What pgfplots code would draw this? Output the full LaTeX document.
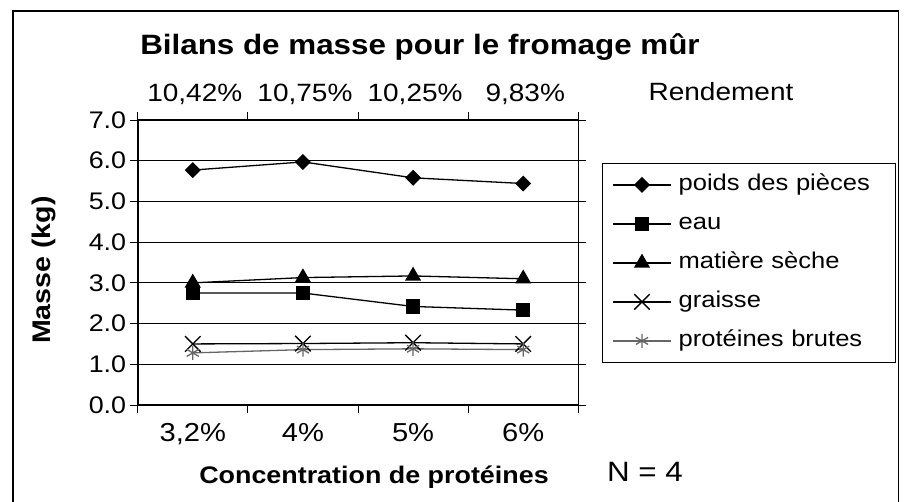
\documentclass[border=0pt]{standalone}
\usepackage{fontspec}
\setmainfont{Liberation Sans}[FakeStretch=1.12]
\usepackage{pgfplots}
\pgfplotsset{compat=1.18}
\begin{document}
\begin{tikzpicture}[x=1pt,y=1pt]
\draw[line width=1.6pt] (13,-11) rectangle (898.5,-520);
\node[anchor=base,font=\fontsize{28}{30}\selectfont\bfseries] at (420,-55) {Bilans de masse pour le fromage mûr};
\node[anchor=base,font=\fontsize{25}{27}\selectfont] at (721,-100.5) {Rendement};
\node[anchor=base,font=\fontsize{28}{30}\selectfont] at (645,-481.7) {N = 4};
\node[anchor=base,font=\fontsize{24}{26}\selectfont\bfseries] at (374,-483.3) {Concentration de protéines};
\node[anchor=base,rotate=90,font=\fontsize{25.5}{27}\selectfont\bfseries] at (50,-270) {Masse (kg)};
\begin{axis}[
  at={(137.7pt,-405pt)}, anchor=south west,
  scale only axis, width=440.6pt, height=285pt,
  xmin=-0.5, xmax=3.5, ymin=0, ymax=7,
  clip=false,
  ytick={0,1,2,3,4,5,6,7},
  yticklabels={0.0,1.0,2.0,3.0,4.0,5.0,6.0,7.0},
  ymajorgrids, grid style={black, line width=1pt},
  axis line style={line width=1.6pt},
  tick align=outside, major tick length=8pt,
  tick style={black, line width=1pt},
  xtick={-0.5,0.5,1.5,2.5,3.5}, xticklabels={,,,,},
  extra x ticks={0,1,2,3},
  extra x tick labels={{3,2\%},4\%,5\%,6\%},
  extra x tick style={major tick length=0pt, xticklabel style={yshift=-15pt}},
  yticklabel style={font=\fontsize{24}{26}\selectfont},
  xticklabel style={font=\fontsize{26}{28}\selectfont},
  legend style={at={(1.0531,0.850)}, anchor=north west, draw=black, line width=1.3pt,
    inner xsep=10pt, inner ysep=11pt, row sep=18pt, column sep=7pt,
    font=\fontsize{22.8}{24}\selectfont,
    nodes={inner sep=0pt, text width=207pt, align=left, text height=16pt, text depth=5pt}},
  legend cell align=left,
  legend image code/.code={\draw[mark repeat=2,mark phase=2,#1] plot coordinates {(0pt,0pt) (29pt,0pt) (58pt,0pt)};},
]
\addplot[black, line width=1.3pt, mark=square*, mark size=5pt, mark options={rotate=45, solid}] coordinates {(0,5.77) (1,5.97) (2,5.58) (3,5.44)};
\addlegendentry{poids des pièces}
\addplot[black, line width=1.3pt, mark=square*, mark size=6.5pt, mark options={solid}] coordinates {(0,2.75) (1,2.75) (2,2.42) (3,2.33)};
\addlegendentry{eau}
\addplot[black, line width=1.3pt, mark=triangle*, mark size=8pt, mark options={solid}] coordinates {(0,3.00) (1,3.13) (2,3.17) (3,3.10)};
\addlegendentry{matière sèche}
\addplot[black, line width=1.3pt, mark=x, mark size=11pt, mark options={solid}] coordinates {(0,1.50) (1,1.51) (2,1.53) (3,1.50)};
\addlegendentry{graisse}
\addplot[black!60, line width=1.3pt, mark=asterisk, mark size=7pt, mark options={solid}] coordinates {(0,1.28) (1,1.36) (2,1.38) (3,1.36)};
\addlegendentry{protéines brutes}
\node[anchor=base,font=\fontsize{25}{27}\selectfont] at (axis cs:0,7) [yshift=18.3pt,xshift=2pt] {10,42\%};
\node[anchor=base,font=\fontsize{25}{27}\selectfont] at (axis cs:1,7) [yshift=18.3pt,xshift=2pt] {10,75\%};
\node[anchor=base,font=\fontsize{25}{27}\selectfont] at (axis cs:2,7) [yshift=18.3pt,xshift=2pt] {10,25\%};
\node[anchor=base,font=\fontsize{25}{27}\selectfont] at (axis cs:3,7) [yshift=18.3pt,xshift=2pt] {9,83\%};
\end{axis}
\pgfresetboundingbox
\path (0,0) rectangle (907,-502);
\end{tikzpicture}
\end{document}
